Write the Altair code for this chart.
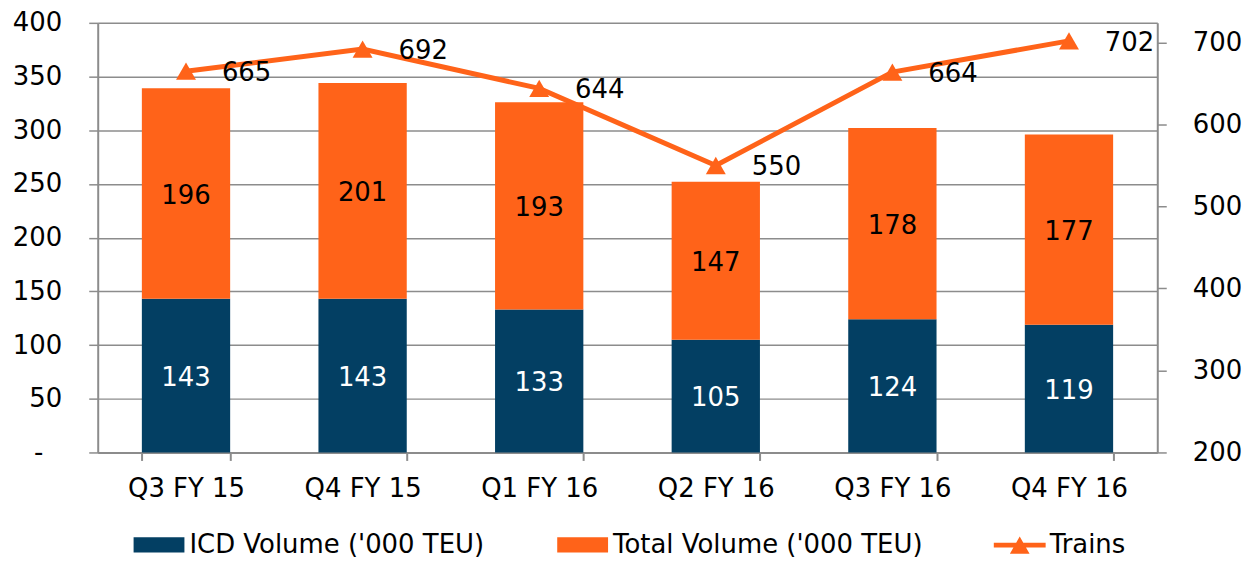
import altair as alt
import pandas as pd

quarters = ["Q3 FY 15", "Q4 FY 15", "Q1 FY 16", "Q2 FY 16", "Q3 FY 16", "Q4 FY 16"]
icd_volume = [143, 143, 133, 105, 124, 119]
total_volume = [196, 201, 193, 147, 178, 177]
trains = [665, 692, 644, 550, 664, 702]

ICD = "ICD Volume ('000 TEU)"
TOT = "Total Volume ('000 TEU)"
TRN = "Trains"

rows = []
for q, a, b in zip(quarters, icd_volume, total_volume):
    rows.append(dict(quarter=q, series=ICD, value=a, start=0, end=a))
    rows.append(dict(quarter=q, series=TOT, value=b, start=a, end=a + b))
bars_df = pd.DataFrame(rows)
bars_df["mid"] = (bars_df["start"] + bars_df["end"]) / 2
line_df = pd.DataFrame(dict(quarter=quarters, trains=trains, series=[TRN] * len(quarters)))

FONT = "DejaVu Sans"
NAVY = "#033F63"
ORANGE = "#FF6319"
GRID = "#8C8C8C"
FS = 26

x = alt.X(
    "quarter:N", sort=quarters, title=None,
    scale=alt.Scale(paddingInner=0.5, paddingOuter=0.25),
    axis=alt.Axis(labelAngle=0, tickBand="extent", tickSize=8, labelPadding=15,
                  domainColor=GRID, tickColor=GRID, domainWidth=2, tickWidth=2,
                  labelFontSize=FS, labelFont=FONT, labelColor="black", grid=False),
)

yL_scale = alt.Scale(domain=[0, 400], nice=False)
yL = alt.Y(
    "start:Q", scale=yL_scale, title=None,
    axis=alt.Axis(values=list(range(0, 401, 50)), grid=True, gridColor=GRID, gridWidth=1.5,
                  domainColor=GRID, domainWidth=2, tickColor=GRID, tickWidth=1.5, tickSize=9,
                  labelPadding={"condition": {"test": "datum.value == 0", "value": 46}, "value": 27},
                  labelFont=FONT, labelFontSize=FS, labelColor="black",
                  labelExpr="datum.value == 0 ? '-' : datum.label"),
)

bars = alt.Chart(bars_df).mark_bar().encode(
    x=x,
    y=yL,
    y2="end:Q",
    color=alt.Color(
        "series:N",
        scale=alt.Scale(domain=[ICD, TOT], range=[NAVY, ORANGE]),
        legend=alt.Legend(title=None, orient="none", legendX=36, legendY=498,
                          direction="horizontal", symbolType="M-1,-0.3H1V0.3H-1Z",
                          symbolSize=2601, symbolStrokeWidth=0, symbolOpacity=1,
                          labelFont=FONT, labelFontSize=FS, labelColor="black",
                          labelOffset=5, columnPadding=73, labelLimit=0),
    ),
)

bar_text = alt.Chart(bars_df).mark_text(font=FONT, fontSize=FS, baseline="middle", dy=2).encode(
    x=x,
    y=alt.Y("mid:Q", scale=yL_scale),
    text="value:Q",
    color=alt.condition(alt.FieldEqualPredicate(field="series", equal=ICD),
                        alt.value("white"), alt.value("black")),
)

yR_scale = alt.Scale(domain=[200, 724], nice=False, zero=False)
yR = alt.Y(
    "trains:Q", scale=yR_scale, title=None,
    axis=alt.Axis(orient="right", values=list(range(200, 701, 100)), grid=False,
                  domainColor=GRID, domainWidth=2, tickColor=GRID, tickWidth=1.5, tickSize=9,
                  labelPadding=26, labelFont=FONT, labelFontSize=FS, labelColor="black"),
)

line = alt.Chart(line_df).mark_line(color=ORANGE, strokeWidth=5).encode(x=x, y=yR)

points = alt.Chart(line_df).mark_point(shape="triangle-up", filled=True, size=400, opacity=1).encode(
    x=x,
    y=yR,
    color=alt.Color(
        "series:N",
        scale=alt.Scale(domain=[TRN], range=[ORANGE]),
        legend=alt.Legend(title=None, orient="none", legendX=899, legendY=498,
                          direction="horizontal",
                          symbolType="M-1,-0.09H1V0.09H-1Z M0,-0.33L0.38,0.33L-0.38,0.33Z",
                          symbolSize=2704, symbolStrokeWidth=0, symbolOpacity=1,
                          labelFont=FONT, labelFontSize=FS, labelColor="black",
                          labelOffset=4, labelLimit=0),
    ),
)

line_text = alt.Chart(line_df).mark_text(font=FONT, fontSize=FS, align="left", baseline="middle",
                                         dx=36, dy=2, color="black").encode(
    x=x, y=yR, text="trains:Q"
)

left = alt.layer(bars, bar_text)
right = alt.layer(line, points, line_text)

chart = (
    alt.layer(left, right)
    .resolve_scale(y="independent", color="independent")
    .properties(
        width=1063, height=431,
        autosize=alt.AutoSizeParams(type="none"),
        padding={"left": 90, "top": 14, "right": 86, "bottom": 106},
    )
    .configure_view(stroke=None)
)

chart.save("out.html", embed_options={"renderer": "svg", "actions": False})
